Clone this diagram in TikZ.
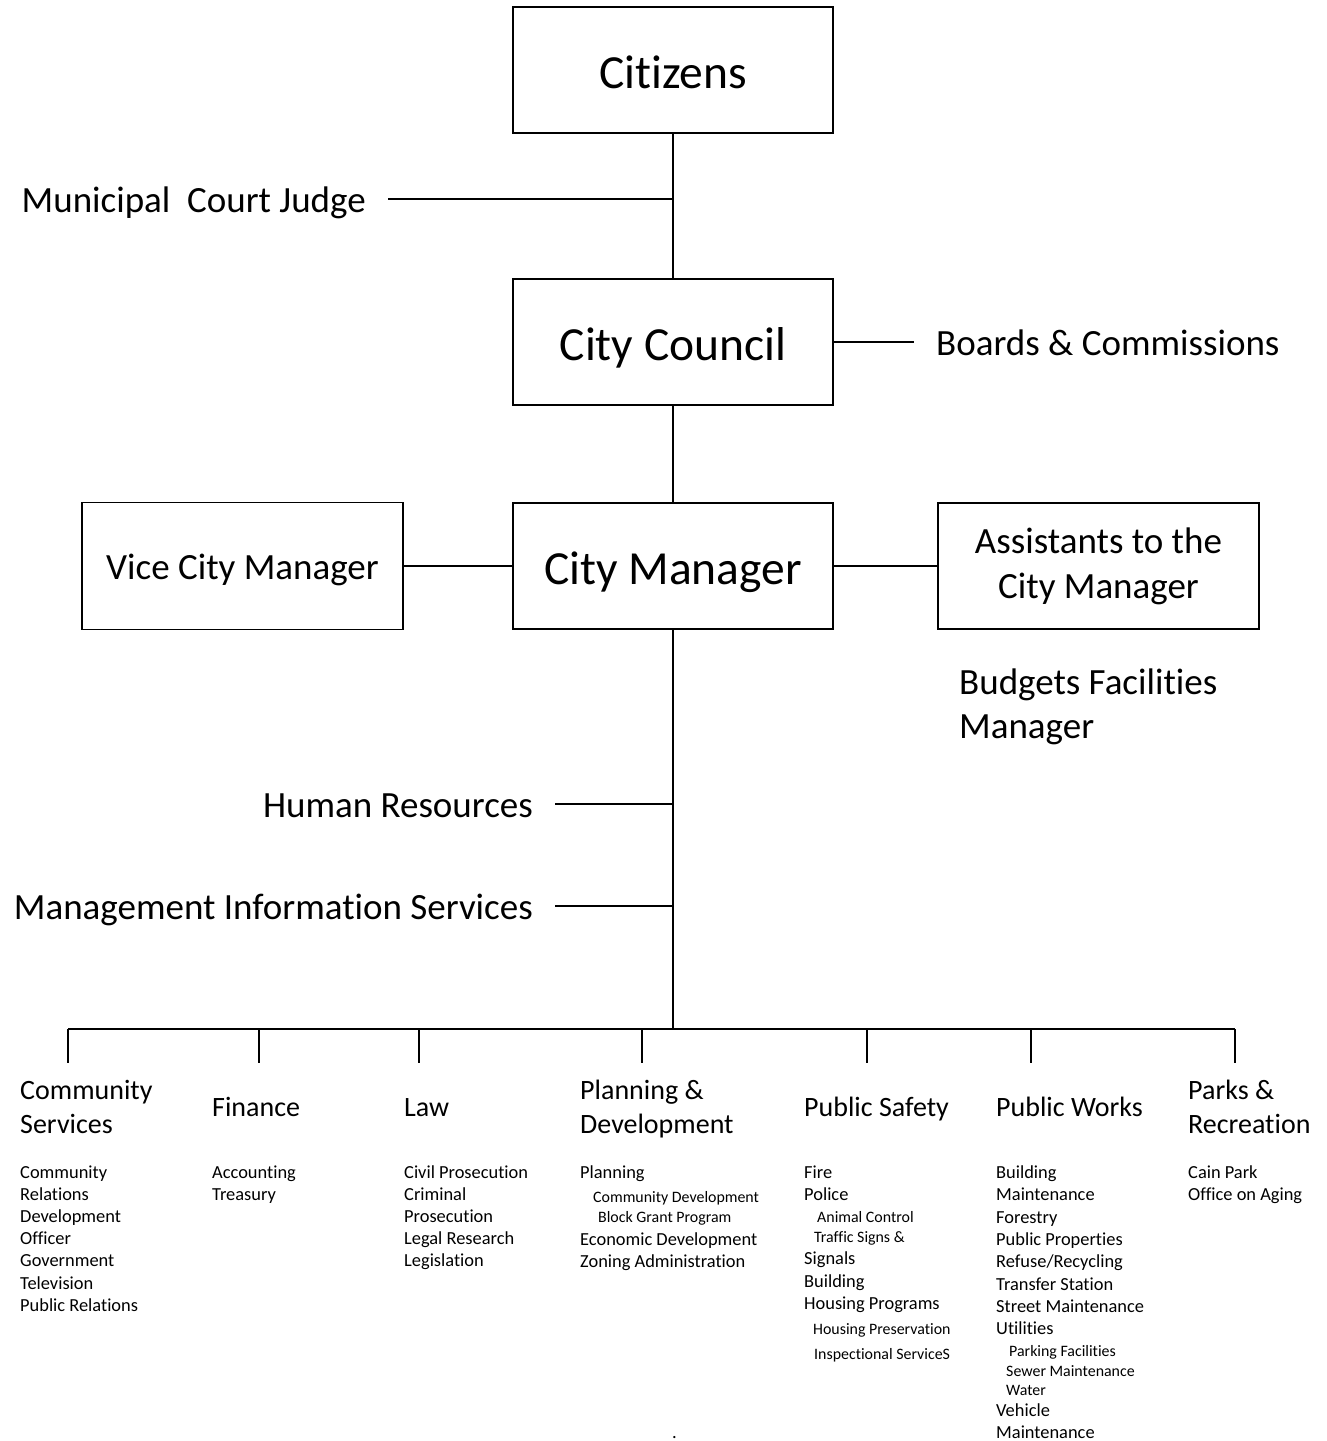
\documentclass[tikz,border=0pt]{standalone}
\usepackage{fontspec}
\setmainfont{Carlito}[Ligatures=NoCommon]
\usetikzlibrary{positioning}

\begin{document}
\begin{tikzpicture}[x=1pt, y=-1pt,
  frame/.style={rectangle, draw, line width=1.5pt, minimum width=320pt, minimum height=126pt, inner sep=0pt, align=center},
  box/.style={frame, font=\fontsize{47.5}{57}\selectfont, text height=36pt, text depth=0pt},
  midbox/.style={frame, font=\fontsize{37}{45}\selectfont, text height=27pt, text depth=0pt},
  twobox/.style={frame, font=\fontsize{37}{45}\selectfont},
  side/.style={inner xsep=22pt, inner ysep=0pt, font=\fontsize{37}{45}\selectfont, text height=30pt, text depth=4pt},
  head/.style={anchor=base west, inner sep=0pt, align=left, font=\fontsize{28}{34}\selectfont},
  item/.style={anchor=base west, inner sep=0pt, font=\fontsize{18.4}{22.2}\selectfont},
  sub/.style={item, font=\fontsize{15.9}{19}\selectfont},
  link/.style={line width=1.8pt}
]
  \useasboundingbox (0,0) rectangle (1327,1441);

  \node[box] (cit) at (673,70) {Citizens};
  \node[box] (council) at (673,342) {City Council};
  \node[box] (mgr) at (673,566) {City Manager};
  \node[midbox, minimum width=321pt, minimum height=127pt] (vice) at (242.5,566) {Vice City Manager};
  \node[twobox, minimum width=321pt] (asst) at (1098.5,566) {Assistants to the\\City Manager};

  \node[side, anchor=east] (judge) at (388,199) {Municipal\ \ Court Judge};
  \node[side, anchor=west] (boards) at (914,342) {Boards \& Commissions};
  \node[side, anchor=east] (hr) at (555,804) {Human Resources};
  \node[side, anchor=east] (mis) at (555,906) {Management Information Services};
  \node[anchor=base west, inner sep=0pt, align=left, font=\fontsize{37}{44}\selectfont] (budget) at (959,738) {Budgets Facilities\\Manager};

  \draw[link] (cit) -- (council);
  \draw[link] (judge) -- (judge -| cit);
  \draw[link] (council) -- (boards);
  \draw[link] (council) -- (mgr);
  \draw[link] (vice) -- (mgr);
  \draw[link] (mgr) -- (asst);
  \coordinate (bus) at (673,1029);
  \draw[link] (mgr) -- (bus);
  \draw[link] (hr) -- (hr -| mgr);
  \draw[link] (mis) -- (mis -| mgr);
  \foreach \x [count=\i] in {68,259,419,642,867,1031,1235} {
    \coordinate (top\i) at (\x,1029);
    \coordinate (tick\i) at (\x,1063);
    \draw[link] (top\i) -- (tick\i);
  }
  \draw[link] (top1) -- (top7);

  \node[head] (cs) at (20,1133) {Community\\Services};
  \node[head] (fin) at (212,1116) {Finance};
  \node[head] (law) at (404,1116) {Law};
  \node[head] (plan) at (580,1133) {Planning \&\\Development};
  \node[head] (safety) at (804,1116) {Public Safety};
  \node[head] (works) at (996,1116) {Public Works};
  \node[head] (parks) at (1188,1133) {Parks \&\\Recreation};

  \foreach \txt [count=\i] in {Community, Relations, Development, Officer, Government, Television, Public Relations}
    \node[item] (cs\i) at (20,{1178+22.2*(\i-1)}) {\txt};
  \foreach \txt [count=\i] in {Accounting, Treasury}
    \node[item] (fin\i) at (212,{1178+22.2*(\i-1)}) {\txt};
  \foreach \txt [count=\i] in {Civil Prosecution, Criminal, Prosecution, Legal Research, Legislation}
    \node[item] (law\i) at (404,{1178+22.2*(\i-1)}) {\txt};
  \foreach \txt/\y/\dx/\sty [count=\i] in {Planning/1178/0/item, Community Development/1202/13/sub,
      Block Grant Program/1222/18/sub, Economic Development/1245/0/item, Zoning Administration/1267/0/item}
    \node[\sty] (plan\i) at (580+\dx,\y) {\txt};
  \foreach \txt/\y/\dx/\sty [count=\i] in {Fire/1178/0/item, Police/1200/0/item, Animal Control/1222/13/sub,
      Traffic Signs \&/1242/10/sub, Signals/1264/0/item, Building/1287/0/item, Housing Programs/1309/0/item,
      Housing Preservation/1334/9/sub, Inspectional ServiceS/1359/10/sub}
    \node[\sty] (safety\i) at (804+\dx,\y) {\txt};
  \foreach \txt/\y/\dx/\sty [count=\i] in {Building/1178/0/item, Maintenance/1200/0/item, Forestry/1223/0/item,
      Public Properties/1245/0/item, {Refuse/Recycling}/1267/0/item, Transfer Station/1290/0/item,
      Street Maintenance/1312/0/item, Utilities/1334/0/item, Parking Facilities/1356/13/sub,
      Sewer Maintenance/1376/10/sub, Water/1395/10/sub, Vehicle/1416/0/item, Maintenance/1438/0/item}
    \node[\sty] (works\i) at (996+\dx,\y) {\txt};
  \foreach \txt [count=\i] in {Cain Park, Office on Aging}
    \node[item] (parks\i) at (1188,{1178+22.2*(\i-1)}) {\txt};

  \node[item] (dot) at (672,1438) {.};
\end{tikzpicture}
\end{document}
